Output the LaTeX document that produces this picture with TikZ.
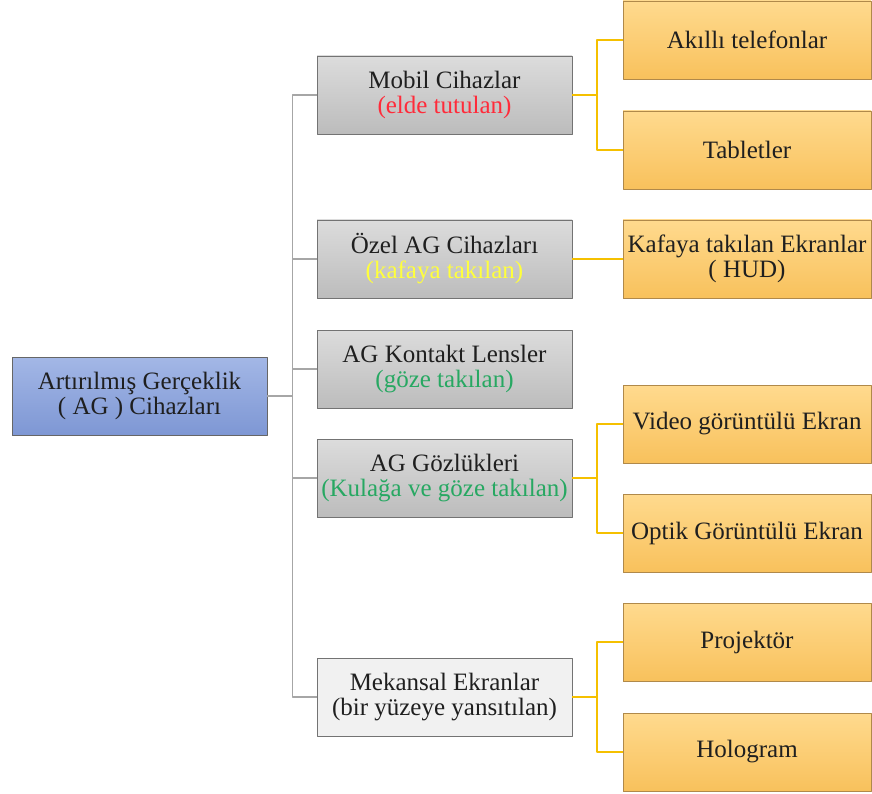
\documentclass[tikz,border=0pt]{standalone}
\usepackage{fontspec}
\setmainfont{Liberation Serif}
\newfontfamily\treefont{Liberation Serif}
\definecolor{rootTop}{HTML}{A3B7E6}
\definecolor{rootBot}{HTML}{7E97D4}
\definecolor{grayTop}{HTML}{DCDCDC}
\definecolor{grayBot}{HTML}{BCBCBC}
\definecolor{lightFill}{HTML}{F1F1F1}
\definecolor{leafTop}{HTML}{FFDA8E}
\definecolor{leafBot}{HTML}{F8C15C}
\definecolor{leafEdge}{HTML}{B0894A}
\definecolor{trunkLine}{HTML}{A6A6A6}
\definecolor{branchLine}{HTML}{F5C000}
\definecolor{txtRed}{HTML}{FF2B3A}
\definecolor{txtYellow}{HTML}{FFFF3C}
\definecolor{txtGreen}{HTML}{27A862}

\begin{document}
\begin{tikzpicture}[
  x=1pt,
  y=1pt,
  line join=round,
  box/.style={
    rectangle,
    inner sep=1pt,
    align=center,
    line width=0.8pt,
    text=black!88,
    font=\treefont\fontsize{25}{25}\selectfont
  },
  rootbox/.style={
    box,
    minimum width=255pt,
    minimum height=78pt,
    draw=black!60,
    top color=rootTop,
    bottom color=rootBot
  },
  groupbox/.style={
    box,
    minimum width=255pt,
    minimum height=78pt,
    draw=black!55,
    top color=grayTop,
    bottom color=grayBot
  },
  plainbox/.style={
    box,
    minimum width=255pt,
    minimum height=78pt,
    draw=black!55,
    fill=lightFill
  },
  leafbox/.style={
    box,
    minimum width=248pt,
    minimum height=78pt,
    draw=leafEdge,
    top color=leafTop,
    bottom color=leafBot
  },
  trunk/.style={draw=trunkLine,line width=1.8pt},
  branch/.style={draw=branchLine,line width=2pt}
]
\useasboundingbox (0,0) rectangle (872,-794);

% Root of the tree.
\node[rootbox] (root) at (139.5,-396) {Artırılmış Gerçeklik\\( AG ) Cihazları};

% Device groups.
\node[groupbox] (mobil) at (444.5,-95)  {Mobil Cihazlar\\\textcolor{txtRed}{(elde tutulan)}};
\node[groupbox] (ozel)  at (444.5,-259) {Özel AG Cihazları\\\textcolor{txtYellow}{(kafaya takılan)}};
\node[groupbox] (lens)  at (444.5,-369) {AG Kontakt Lensler\\\textcolor{txtGreen}{(göze takılan)}};
\node[groupbox] (gozl)  at (444.5,-478) {AG Gözlükleri\\\textcolor{txtGreen}{(Kulağa ve göze takılan)}};
\node[plainbox] (mekan) at (444.5,-697) {Mekansal Ekranlar\\(bir yüzeye yansıtılan)};

% Device types.
\node[leafbox] (akilli) at (747,-40)  {Akıllı telefonlar};
\node[leafbox] (tablet) at (747,-150) {Tabletler};
\node[leafbox] (hud)    at (747,-259) {Kafaya takılan Ekranlar\\( HUD)};
\node[leafbox] (video)  at (747,-424) {Video görüntülü Ekran};
\node[leafbox] (optik)  at (747,-533) {Optik Görüntülü Ekran};
\node[leafbox] (proj)   at (747,-642) {Projektör};
\node[leafbox] (holo)   at (747,-752) {Hologram};

% Gray trunk from the root to every group.
\foreach \g in {mobil,ozel,lens,gozl,mekan}
  \draw[trunk] (root.east) -- ++(25,0) |- (\g.west);

% Yellow branches from groups to types.
\draw[branch] (mobil.east) -- ++(25,0) |- (akilli.west);
\draw[branch] (mobil.east) -- ++(25,0) |- (tablet.west);
\draw[branch] (ozel.east) -- (hud.west);
\draw[branch] (gozl.east) -- ++(25,0) |- (video.west);
\draw[branch] (gozl.east) -- ++(25,0) |- (optik.west);
\draw[branch] (mekan.east) -- ++(25,0) |- (proj.west);
\draw[branch] (mekan.east) -- ++(25,0) |- (holo.west);

\end{tikzpicture}
\end{document}
